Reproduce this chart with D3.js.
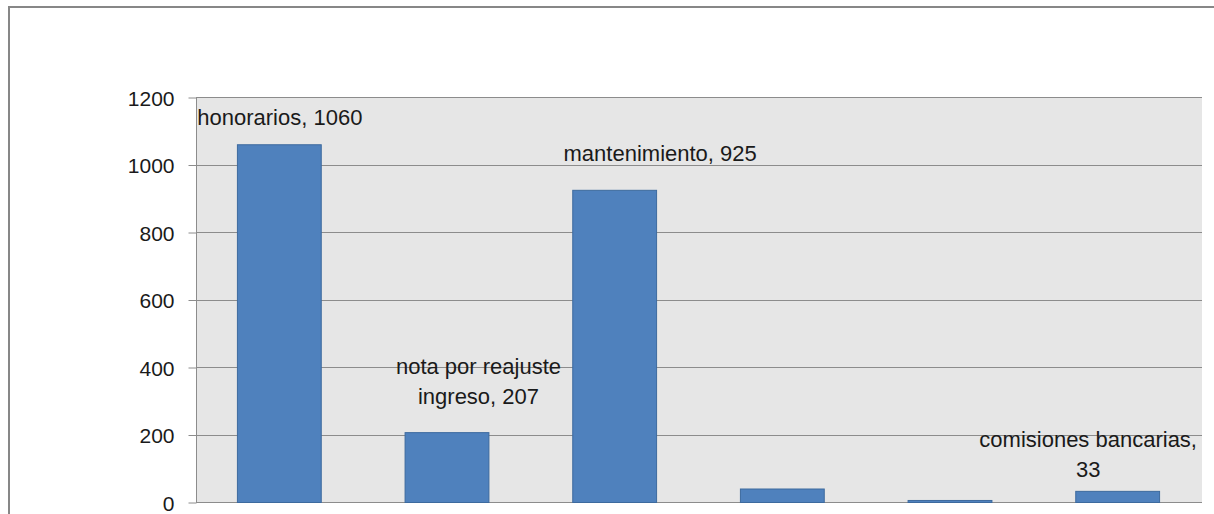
<!DOCTYPE html>
<html>
<head>
<meta charset="utf-8">
<script src="https://cdn.jsdelivr.net/npm/d3@7"></script>
<style>
  html, body { margin: 0; padding: 0; background: #ffffff; overflow: hidden; }
  svg { display: block; }
  text { font-family: "Liberation Sans", Arial, sans-serif; fill: #1a1a1a; }
</style>
</head>
<body>
<svg id="chart" width="1214" height="514"></svg>
<script>
// ---- data ----
const categories = ["honorarios", "nota por reajuste ingreso", "mantenimiento", "otros gastos", "varios", "comisiones bancarias"];
const values = [1060, 207, 925, 40, 6, 33];
const labelLines = [
  ["honorarios, 1060"],
  ["nota por reajuste", "ingreso, 207"],
  ["mantenimiento, 925"],
  [],
  [],
  ["comisiones bancarias,", "33"]
];
const yTicks = [0, 200, 400, 600, 800, 1000, 1200];

// ---- layout (not data) ----
const labelDx = [0, 31, 45, 0, 0, -30];
const labelBaselineGap = [19, 28, 29, 0, 0, 14];
const lineHeight = 30;

const svg = d3.select("#chart");
const plot = { left: 196, right: 1202, top: 97, bottom: 502 };

// outer chart frame
svg.append("rect")
  .attr("x", 9).attr("y", 7).attr("width", 1230).attr("height", 600)
  .attr("fill", "#ffffff").attr("stroke", "#878787").attr("stroke-width", 2);

const x = d3.scaleBand()
  .domain(categories)
  .range([plot.left, plot.right])
  .paddingInner(0.5).paddingOuter(0.25);

const y = d3.scaleLinear().domain([0, 1200]).range([plot.bottom, plot.top]);

// plot background
svg.append("rect")
  .attr("x", plot.left).attr("y", plot.top)
  .attr("width", plot.right - plot.left).attr("height", plot.bottom - plot.top)
  .attr("fill", "#e6e6e6");

// gridlines
svg.append("g")
  .selectAll("line").data(yTicks).join("line")
  .attr("x1", plot.left).attr("x2", plot.right)
  .attr("y1", d => Math.round(y(d)) + 0.5).attr("y2", d => Math.round(y(d)) + 0.5)
  .attr("stroke", "#8c8c8c").attr("stroke-width", 1);

// y axis
const yAxis = d3.axisLeft(y).tickValues(yTicks).tickSize(8).tickPadding(14).tickFormat(d3.format("d"));
const gy = svg.append("g").attr("transform", `translate(${plot.left + 0.5},0.5)`).call(yAxis);
gy.select(".domain").attr("stroke", "#8c8c8c").attr("d", `M0,${plot.top}V${plot.bottom}`);
gy.selectAll(".tick line").attr("stroke", "#8c8c8c");
gy.selectAll(".tick text")
  .attr("font-size", 21)
  .attr("font-family", "'Liberation Sans', Arial, sans-serif")
  .attr("fill", "#1a1a1a")
  .attr("dy", "0.38em");

// bars
svg.append("g")
  .selectAll("rect").data(values).join("rect")
  .attr("x", (d, i) => x(categories[i]) - 0.5)
  .attr("y", d => y(d) + 0.5)
  .attr("width", x.bandwidth())
  .attr("height", d => plot.bottom - y(d))
  .attr("fill", "#4f81bd")
  .attr("stroke", "#3d6a9e")
  .attr("stroke-width", 1);

// data labels
const lab = svg.append("g");
values.forEach((v, i) => {
  const lines = labelLines[i];
  if (!lines.length) return;
  const cx = x(categories[i]) + x.bandwidth() / 2 + labelDx[i];
  const lastBaseline = y(v) - labelBaselineGap[i];
  const t = lab.append("text")
    .attr("text-anchor", "middle")
    .attr("font-size", 22);
  lines.forEach((ln, k) => {
    t.append("tspan")
      .attr("x", cx)
      .attr("y", lastBaseline - (lines.length - 1 - k) * lineHeight)
      .text(ln);
  });
});
</script>
</body>
</html>
